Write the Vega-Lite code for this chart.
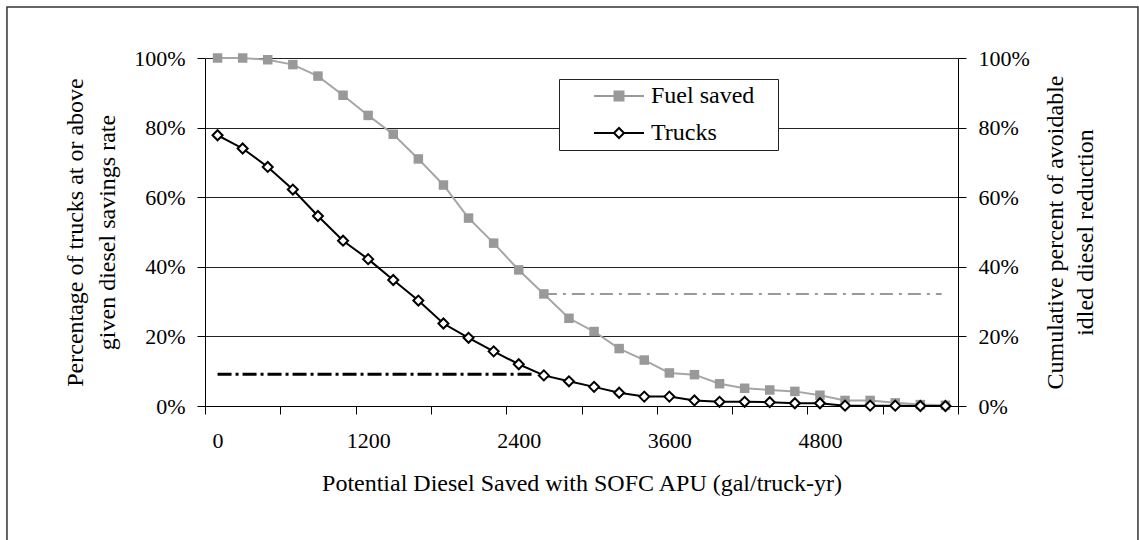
{
  "$schema": "https://vega.github.io/schema/vega-lite/v6.json",
  "width": 753,
  "height": 348,
  "autosize": {"type": "none"},
  "padding": {"left": 205, "top": 58, "right": 181, "bottom": 134},
  "background": "white",
  "config": {
    "font": "Liberation Serif",
    "view": {"stroke": null},
    "axis": {
      "labelFont": "Liberation Serif",
      "titleFont": "Liberation Serif",
      "labelColor": "black",
      "titleColor": "black",
      "titleFontWeight": "normal",
      "domainColor": "black",
      "tickColor": "black",
      "labelFontSize": 22,
      "titleFontSize": 24
    }
  },
  "data": {
    "values": [
      {"x": 0, "fuel": 1.0, "trucks": 0.778},
      {"x": 200, "fuel": 1.0, "trucks": 0.74},
      {"x": 400, "fuel": 0.995, "trucks": 0.687},
      {"x": 600, "fuel": 0.981, "trucks": 0.622},
      {"x": 800, "fuel": 0.948, "trucks": 0.546},
      {"x": 1000, "fuel": 0.893, "trucks": 0.475},
      {"x": 1200, "fuel": 0.835, "trucks": 0.422},
      {"x": 1400, "fuel": 0.781, "trucks": 0.362},
      {"x": 1600, "fuel": 0.71, "trucks": 0.303},
      {"x": 1800, "fuel": 0.635, "trucks": 0.237},
      {"x": 2000, "fuel": 0.54, "trucks": 0.196},
      {"x": 2200, "fuel": 0.468, "trucks": 0.157},
      {"x": 2400, "fuel": 0.391, "trucks": 0.12},
      {"x": 2600, "fuel": 0.322, "trucks": 0.088},
      {"x": 2800, "fuel": 0.252, "trucks": 0.071},
      {"x": 3000, "fuel": 0.214, "trucks": 0.055},
      {"x": 3200, "fuel": 0.165, "trucks": 0.038},
      {"x": 3400, "fuel": 0.132, "trucks": 0.027},
      {"x": 3600, "fuel": 0.095, "trucks": 0.027},
      {"x": 3800, "fuel": 0.09, "trucks": 0.016},
      {"x": 4000, "fuel": 0.064, "trucks": 0.012},
      {"x": 4200, "fuel": 0.051, "trucks": 0.012},
      {"x": 4400, "fuel": 0.046, "trucks": 0.011},
      {"x": 4600, "fuel": 0.042, "trucks": 0.008},
      {"x": 4800, "fuel": 0.031, "trucks": 0.008},
      {"x": 5000, "fuel": 0.016, "trucks": 0.001},
      {"x": 5200, "fuel": 0.016, "trucks": 0.001},
      {"x": 5400, "fuel": 0.009, "trucks": 0.001},
      {"x": 5600, "fuel": 0.004, "trucks": 0.0},
      {"x": 5800, "fuel": 0.002, "trucks": 0.0}
    ]
  },
  "resolve": {"scale": {"x": "independent", "y": "independent"}},
  "layer": [
    {
      "layer": [
        {
          "mark": {"type": "line", "color": "#a6a6a6", "strokeWidth": 2},
          "encoding": {
            "x": {
              "field": "x", "type": "quantitative",
              "scale": {"domain": [-100, 5900], "nice": false, "zero": false},
              "axis": {
                "orient": "bottom",
                "values": [-100, 500, 1100, 1700, 2300, 2900, 3500, 4100, 4700, 5300, 5900],
                "labels": false, "ticks": true, "tickSize": 8, "grid": false, "domain": true, "title": null
              }
            },
            "y": {
              "field": "fuel", "type": "quantitative",
              "scale": {"domain": [0, 1], "nice": false, "zero": false},
              "axis": {
                "orient": "right",
                "values": [0, 0.2, 0.4, 0.6, 0.8, 1],
                "format": ".0%",
                "tickSize": 8, "labelPadding": 12, "grid": false, "domain": true,
                "title": ["Cumulative percent of avoidable", "idled diesel reduction"],
                "titleAngle": 270, "titleLineHeight": 30, "titlePadding": 8
              }
            }
          }
        },
        {
          "mark": {"type": "point", "shape": "square", "filled": true, "color": "#999999", "size": 90, "opacity": 1},
          "encoding": {
            "x": {"field": "x", "type": "quantitative"},
            "y": {"field": "fuel", "type": "quantitative"}
          }
        },
        {
          "data": {"values": [{}]},
          "mark": {"type": "rule", "color": "#999999", "strokeWidth": 2, "strokeDash": [13, 6, 3, 6]},
          "encoding": {
            "x": {"datum": 2600, "type": "quantitative"},
            "x2": {"datum": 5770},
            "y": {"datum": 0.322, "type": "quantitative"}
          }
        }
      ]
    },
    {
      "layer": [
        {
          "data": {"values": [{}]},
          "mark": {"type": "rect", "fillOpacity": 0, "stroke": "#333333", "strokeWidth": 1.5},
          "encoding": {
            "x": {"datum": -1678, "type": "quantitative"},
            "x2": {"datum": 7334},
            "y": {"datum": 1.1466, "type": "quantitative"},
            "y2": {"datum": -0.6}
          }
        },
        {
          "mark": {"type": "line", "color": "black", "strokeWidth": 2},
          "encoding": {
            "x": {
              "field": "x", "type": "quantitative",
              "scale": {"domain": [-100, 5900], "nice": false, "zero": false},
              "axis": {
                "orient": "bottom",
                "values": [0, 1200, 2400, 3600, 4800],
                "format": "d",
                "ticks": false, "tickSize": 0, "domain": false, "grid": false,
                "labelPadding": 24,
                "title": "Potential Diesel Saved with SOFC APU (gal/truck-yr)",
                "titlePadding": 20
              }
            },
            "y": {
              "field": "trucks", "type": "quantitative",
              "scale": {"domain": [0, 1], "nice": false, "zero": false},
              "axis": {
                "orient": "left",
                "values": [0, 0.2, 0.4, 0.6, 0.8, 1],
                "format": ".0%",
                "tickSize": 8, "labelPadding": 12, "grid": true, "gridColor": "#222222", "gridWidth": 1, "domain": true,
                "title": ["Percentage of trucks at or above", "given diesel savings rate"],
                "titleLineHeight": 32, "titlePadding": 14
              }
            }
          }
        },
        {
          "mark": {"type": "point", "shape": "diamond", "filled": true, "fill": "white", "stroke": "black", "strokeWidth": 2, "size": 100, "opacity": 1},
          "encoding": {
            "x": {"field": "x", "type": "quantitative"},
            "y": {"field": "trucks", "type": "quantitative"}
          }
        },
        {
          "data": {"values": [{}]},
          "mark": {"type": "rule", "color": "black", "strokeWidth": 3, "strokeDash": [14, 4, 3, 4]},
          "encoding": {
            "x": {"datum": 0, "type": "quantitative"},
            "x2": {"datum": 2530},
            "y": {"datum": 0.091, "type": "quantitative"}
          }
        },
        {
          "data": {"values": []},
          "mark": {"type": "point", "filled": true, "opacity": 1, "strokeWidth": 2},
          "encoding": {
            "shape": {
              "field": "series", "type": "nominal",
              "scale": {"domain": ["Fuel saved", "Trucks"], "range": ["M1.8,0H6.8M3.85,-0.45H4.75V0.45H3.85Z", "M1.8,0H3.8M4.8,0H6.8M3.8,0L4.3,-0.5L4.8,0L4.3,0.5Z"]},
              "legend": {"orient": "none", "legendX": 354, "legendY": 21, "direction": "vertical", "title": null, "padding": 5, "fillColor": "white", "strokeColor": "#222222", "labelFontSize": 24, "labelFont": "Liberation Serif", "labelColor": "black", "symbolSize": 400, "symbolStrokeWidth": 2, "symbolOpacity": 1, "labelOffset": 63, "rowPadding": 13, "labelExpr": "datum.label + '\u2800'"}
            },
            "fill": {
              "field": "series", "type": "nominal",
              "scale": {"domain": ["Fuel saved", "Trucks"], "range": ["#999999", "white"]},
              "legend": {"orient": "none", "legendX": 354, "legendY": 21, "direction": "vertical", "title": null, "padding": 5, "fillColor": "white", "strokeColor": "#222222", "labelFontSize": 24, "labelFont": "Liberation Serif", "labelColor": "black", "symbolSize": 400, "symbolStrokeWidth": 2, "symbolOpacity": 1, "labelOffset": 63, "rowPadding": 13, "labelExpr": "datum.label + '\u2800'"}
            },
            "stroke": {
              "field": "series", "type": "nominal",
              "scale": {"domain": ["Fuel saved", "Trucks"], "range": ["#999999", "black"]},
              "legend": {"orient": "none", "legendX": 354, "legendY": 21, "direction": "vertical", "title": null, "padding": 5, "fillColor": "white", "strokeColor": "#222222", "labelFontSize": 24, "labelFont": "Liberation Serif", "labelColor": "black", "symbolSize": 400, "symbolStrokeWidth": 2, "symbolOpacity": 1, "labelOffset": 63, "rowPadding": 13, "labelExpr": "datum.label + '\u2800'"}
            }
          }
        }
      ]
    }
  ]
}
